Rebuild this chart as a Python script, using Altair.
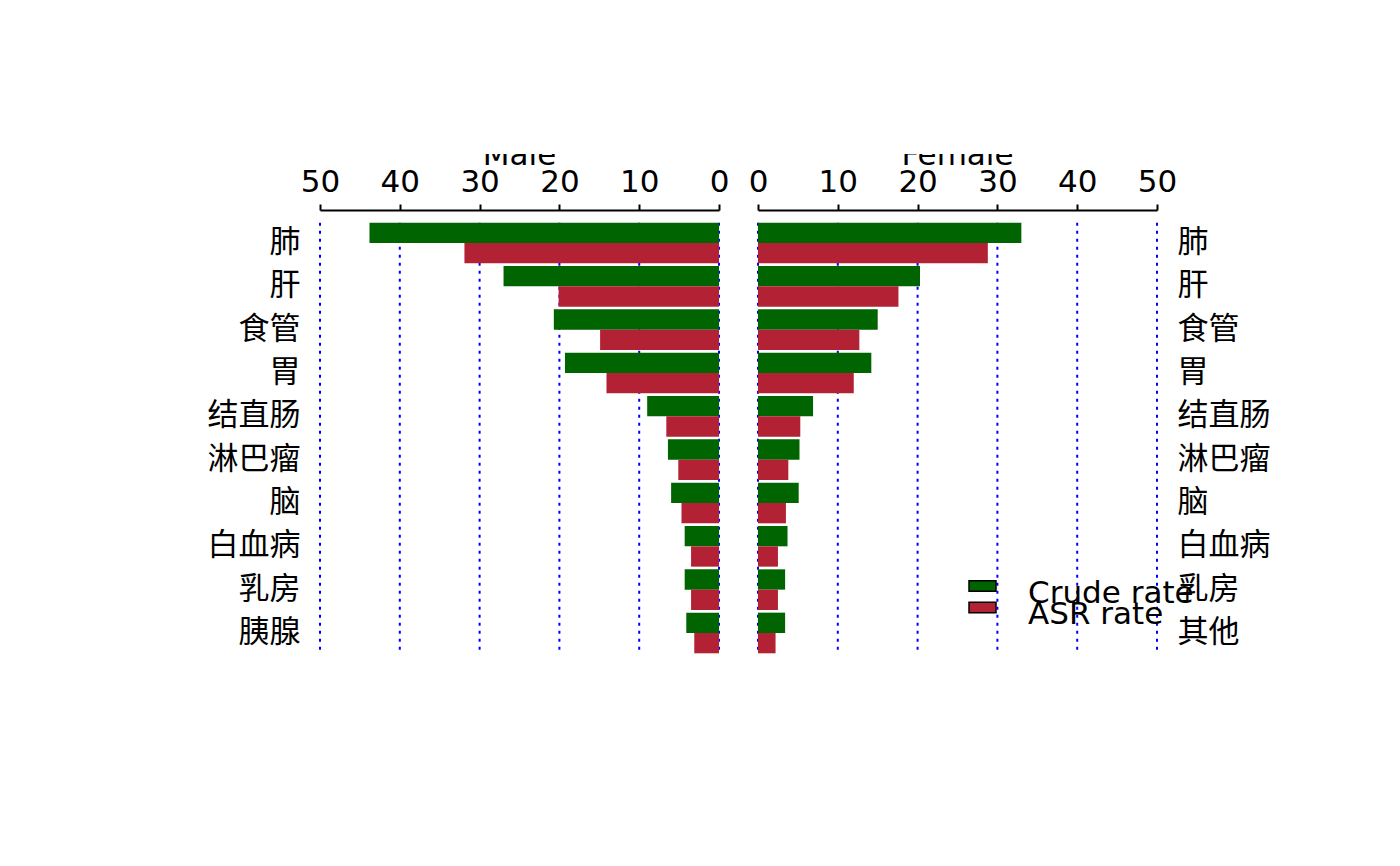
import altair as alt
import pandas as pd

# ---- data ----
series = ["Crude rate", "ASR rate"]
colors = ["#006400", "#B22234"]
tick_values = [0, 10, 20, 30, 40, 50]
titles = ["Male", "Female"]

cats_male = ["肺", "肝", "食管", "胃", "结直肠", "淋巴瘤", "脑", "白血病", "乳房", "胰腺"]
male_crude = [43.8, 27.0, 20.7, 19.3, 9.0, 6.4, 6.0, 4.3, 4.3, 4.1]
male_asr = [31.9, 20.1, 14.9, 14.1, 6.6, 5.1, 4.7, 3.5, 3.5, 3.1]

cats_female = ["肺", "肝", "食管", "胃", "结直肠", "淋巴瘤", "脑", "白血病", "乳房", "其他"]
female_crude = [33.0, 20.3, 15.0, 14.2, 6.9, 5.2, 5.1, 3.7, 3.4, 3.4]
female_asr = [28.8, 17.6, 12.7, 12.0, 5.3, 3.8, 3.5, 2.5, 2.5, 2.2]

FONT = "DejaVu Sans, Noto Sans CJK SC"
FS = 31
W = 399
H = 456


def long_df(cats, crude, asr):
    rows = []
    for c, v1, v2 in zip(cats, crude, asr):
        rows.append({"cat": c, "series": series[0], "value": v1})
        rows.append({"cat": c, "series": series[1], "value": v2})
    return pd.DataFrame(rows)


color_scale = alt.Scale(domain=series, range=colors)


def panel(cats, crude, asr, side):
    df = long_df(cats, crude, asr)
    grid_df = pd.DataFrame({"value": tick_values, "cat": cats[0], "cat_end": cats[-1]})
    xscale = alt.Scale(domain=[0, 50], nice=False, zero=True, reverse=(side == "left"))
    yscale = alt.Scale(domain=cats, paddingInner=0.062, paddingOuter=0.293)
    xaxis = alt.Axis(
        orient="top", values=tick_values, title=None, grid=False,
        labelFontSize=FS, labelFont=FONT, labelColor="black", labelFlush=False,
        labelPadding=6, tickSize=6, tickWidth=2, tickColor="black",
        domainWidth=2, domainColor="black", labelOverlap=False,
    )
    yaxis = alt.Axis(
        orient="left" if side == "left" else "right", title=None, domain=False,
        ticks=False, tickSize=0, labelPadding=20, labelFontSize=FS, labelFont=FONT,
        labelColor="black", grid=False,
    )

    grid = alt.Chart(grid_df).mark_rule(
        color="#0000FF", strokeWidth=2, strokeDash=[3, 5]
    ).encode(
        x=alt.X("value:Q", scale=xscale, axis=xaxis),
        y=alt.Y("cat:N", scale=yscale, axis=None, bandPosition=0),
        y2=alt.Y2("cat_end", bandPosition=1),
    )
    bars = alt.Chart(df).mark_bar().encode(
        x=alt.X("value:Q", scale=xscale, axis=xaxis),
        y=alt.Y("cat:N", scale=yscale, axis=yaxis),
        yOffset=alt.YOffset("series:N", sort=series,
                            scale=alt.Scale(domain=series, paddingInner=0, paddingOuter=0)),
        color=alt.Color("series:N", scale=color_scale, legend=None),
    )
    layers = [grid, bars]

    if side == "right":
        legend_df = pd.DataFrame({"series": series})
        legend_y = alt.Scale(type="point", domain=series, range=[376, 397.5], padding=0)
        sym = alt.Chart(legend_df).mark_point(
            shape="M-1,-0.38H1V0.38H-1Z", size=729, filled=True, opacity=1,
            stroke="black", strokeWidth=1.5,
        ).encode(
            x=alt.value(224.5),
            y=alt.Y("series:N", scale=legend_y, axis=None),
            color=alt.Color("series:N", scale=color_scale, legend=None),
        )
        txt = alt.Chart(legend_df).mark_text(
            align="left", baseline="alphabetic", dy=16.5, fontSize=FS, font=FONT,
            color="black",
        ).encode(
            x=alt.value(270),
            y=alt.Y("series:N", scale=legend_y, axis=None),
            text="series:N",
        )
        layers += [sym, txt]

    return alt.layer(*layers).resolve_scale(y="independent").properties(width=W, height=H)


def title_strip(t):
    return alt.Chart(pd.DataFrame({"t": [t]})).mark_text(
        clip=True, fontSize=FS, font=FONT, baseline="alphabetic", align="center",
        color="black",
    ).encode(
        x=alt.value(W / 2), y=alt.value(11), text="t:N"
    ).properties(width=W, height=12)


top = alt.hconcat(title_strip(titles[0]), title_strip(titles[1]), spacing=39, bounds="flush")
bottom = alt.hconcat(
    panel(cats_male, male_crude, male_asr, "left"),
    panel(cats_female, female_crude, female_asr, "right"),
    spacing=39, bounds="flush",
).resolve_scale(x="independent", y="independent")

chart = alt.vconcat(top, bottom, spacing=56, bounds="flush").properties(
    padding={"left": 207, "top": 154, "right": 5, "bottom": 5},
    background="white",
).configure(font=FONT).configure_view(strokeWidth=0, stroke="transparent")

chart.save("out.html", embed_options={"renderer": "svg", "actions": False})
